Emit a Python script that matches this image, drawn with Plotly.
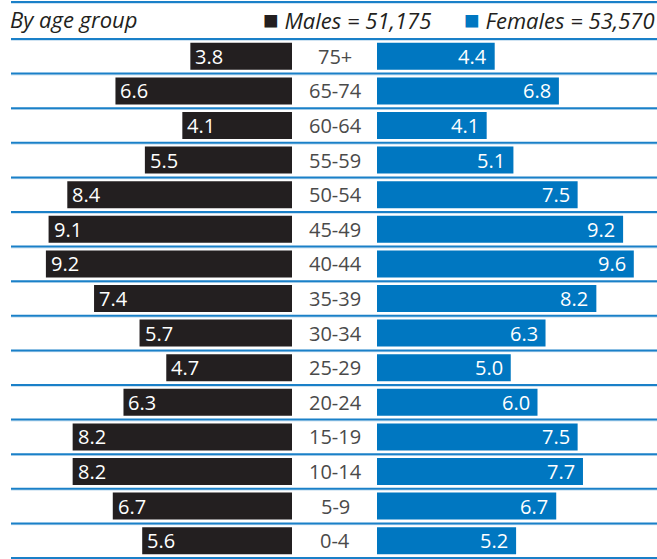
import plotly.graph_objects as go

ages = ["0-4", "5-9", "10-14", "15-19", "20-24", "25-29", "30-34", "35-39",
        "40-44", "45-49", "50-54", "55-59", "60-64", "65-74", "75+"]
males = [5.6, 6.7, 8.2, 8.2, 6.3, 4.7, 5.7, 7.4, 9.2, 9.1, 8.4, 5.5, 4.1, 6.6, 3.8]
females = [5.2, 6.7, 7.7, 7.5, 6.0, 5.0, 6.3, 8.2, 9.6, 9.2, 7.5, 5.1, 4.1, 6.8, 4.4]
header_left = "By age group"
male_label = "Males = 51,175"
female_label = "Females = 53,570"

W, H = 657, 559
BLACK = "#231f20"
BLUE = "#0077c1"
FONT = "Open Sans"

top_px, bot_px = 39, 558
mt, mb = top_px, H - bot_px
ppu = 26.75
male_end = 292
fem_start = 377

fig = go.Figure()
fig.add_trace(go.Bar(y=ages, x=males, orientation="h", marker=dict(color=BLACK, line=dict(width=0)),
                     xaxis="x", yaxis="y", width=0.78, hoverinfo="skip"))
fig.add_trace(go.Bar(y=ages, x=females, orientation="h", marker=dict(color=BLUE, line=dict(width=0)),
                     xaxis="x2", yaxis="y", width=0.78, hoverinfo="skip"))

ann = []
tf = lambda v: f"{v:.1f}"
for a, m, f in zip(ages, males, females):
    ann.append(dict(x=m, y=a, xref="x", yref="y", text=tf(m), showarrow=False,
                    xanchor="left", xshift=3, font=dict(family=FONT, size=20, color="white")))
    ann.append(dict(x=f, y=a, xref="x2", yref="y", text=tf(f), showarrow=False,
                    xanchor="right", xshift=-6, font=dict(family=FONT, size=20, color="white")))
    ann.append(dict(x=335 / W, y=a, xref="paper", yref="y", text=a, showarrow=False,
                    xanchor="center", font=dict(family=FONT, size=20, color="#4a4a4a")))

plot_h = bot_px - top_px
def ypaper(px):
    return (bot_px - px) / plot_h

hy = ypaper(19)
ann.append(dict(x=8 / W, y=hy, xref="paper", yref="paper", showarrow=False, xanchor="left",
                yanchor="middle", text=f"<i>{header_left}</i>",
                font=dict(family=FONT, size=22, color="#231f20")))
ann.append(dict(x=261 / W, y=hy, xref="paper", yref="paper", showarrow=False, xanchor="left",
                yanchor="middle",
                text=f"<span style='color:{BLACK};font-size:26px'>■</span> <i>{male_label}</i>",
                font=dict(family=FONT, size=22, color="#231f20")))
ann.append(dict(x=657 / W, y=hy, xref="paper", yref="paper", showarrow=False, xanchor="right",
                yanchor="middle",
                text=f"<span style='color:{BLUE};font-size:26px'>■</span> <i>{female_label}</i>",
                font=dict(family=FONT, size=22, color="#231f20")))

shapes = []
row_h = plot_h / len(ages)
lines_px = [2] + [top_px + row_h * k for k in range(len(ages) + 1)]
for lp in lines_px:
    shapes.append(dict(type="line", xref="paper", yref="paper", x0=11 / W, x1=1,
                       y0=ypaper(lp + 1.3), y1=ypaper(lp + 1.3), line=dict(color="#cfe3f2", width=1.2)))
    shapes.append(dict(type="line", xref="paper", yref="paper", x0=11 / W, x1=1,
                       y0=ypaper(lp), y1=ypaper(lp), line=dict(color="#1a80c8", width=2)))

fig.update_layout(
    width=W, height=H, margin=dict(l=0, r=0, t=mt, b=mb),
    paper_bgcolor="white", plot_bgcolor="white", showlegend=False, barmode="overlay",
    xaxis=dict(domain=[0, male_end / W], range=[male_end / ppu, 0], visible=False, fixedrange=True),
    xaxis2=dict(domain=[fem_start / W, 1], range=[0, (W - fem_start) / ppu], visible=False, fixedrange=True),
    yaxis=dict(categoryorder="array", categoryarray=ages, range=[-0.5, len(ages) - 0.5],
               visible=False, fixedrange=True),
    annotations=ann, shapes=shapes,
)
fig.write_html("out.html")
